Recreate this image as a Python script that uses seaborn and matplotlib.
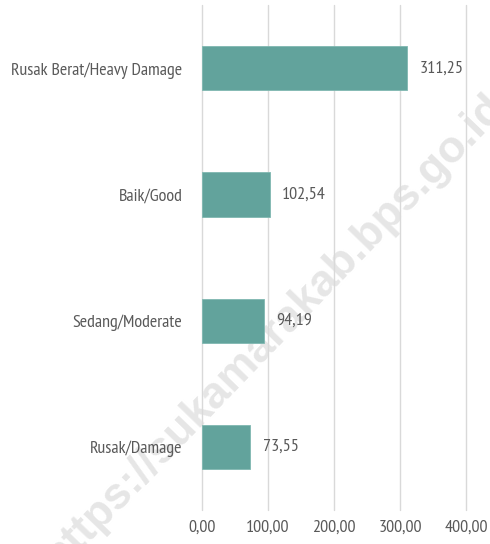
import matplotlib
matplotlib.use("Agg")
import matplotlib.pyplot as plt
import seaborn as sns
import pandas as pd

categories = ["Rusak Berat/Heavy Damage", "Baik/Good", "Sedang/Moderate", "Rusak/Damage"]
values = [311.25, 102.54, 94.19, 73.55]
tick_values = [0, 100, 200, 300, 400]

sns.set_style("white")
plt.rcParams["font.family"] = ["PT Sans Narrow", "DejaVu Sans"]

text_color = "#595959"
grid_color = "#d9d9d9"
bar_color = "#62a39c"

df = pd.DataFrame({"kondisi": categories, "panjang": values})

fig = plt.figure(figsize=(4.9, 5.44), dpi=100)
ax = fig.add_axes([0.412, 0.0625, 0.539, 0.928])
ax.patch.set_alpha(0)

# watermark behind everything
fig.text(0.56, 0.39, "https://sukamarakab.bps.go.id", rotation=46, fontsize=32,
         fontweight="bold", color="#e6e6e6", ha="center", va="center",
         family=["Liberation Sans", "DejaVu Sans"], zorder=-1)

sns.barplot(data=df, x="panjang", y="kondisi", color=bar_color, width=0.35,
            saturation=1, edgecolor="#7fb8b1", linewidth=0.6, ax=ax, zorder=3)

for i, v in enumerate(values):
    ax.annotate(f"{v:.2f}".replace(".", ","), (v, i), xytext=(9, 0),
                textcoords="offset points", va="center", ha="left",
                fontsize=13, color=text_color)

ax.set_xlim(0, 400)
ax.set_ylim(3.5, -0.5)
ax.set_xticks(tick_values)
ax.set_xticklabels([f"{t:.2f}".replace(".", ",") for t in tick_values])
ax.grid(axis="x", color=grid_color, linewidth=1, zorder=0)
for gl in ax.get_xgridlines():
    gl.set_clip_on(False)
ax.set_axisbelow(True)
for s in ax.spines.values():
    s.set_visible(False)
ax.tick_params(axis="both", length=0, labelsize=13, colors=text_color)
ax.tick_params(axis="x", pad=7)
ax.tick_params(axis="y", pad=14)
ax.set_xlabel("")
ax.set_ylabel("")

fig.savefig("out.png", dpi=100)
